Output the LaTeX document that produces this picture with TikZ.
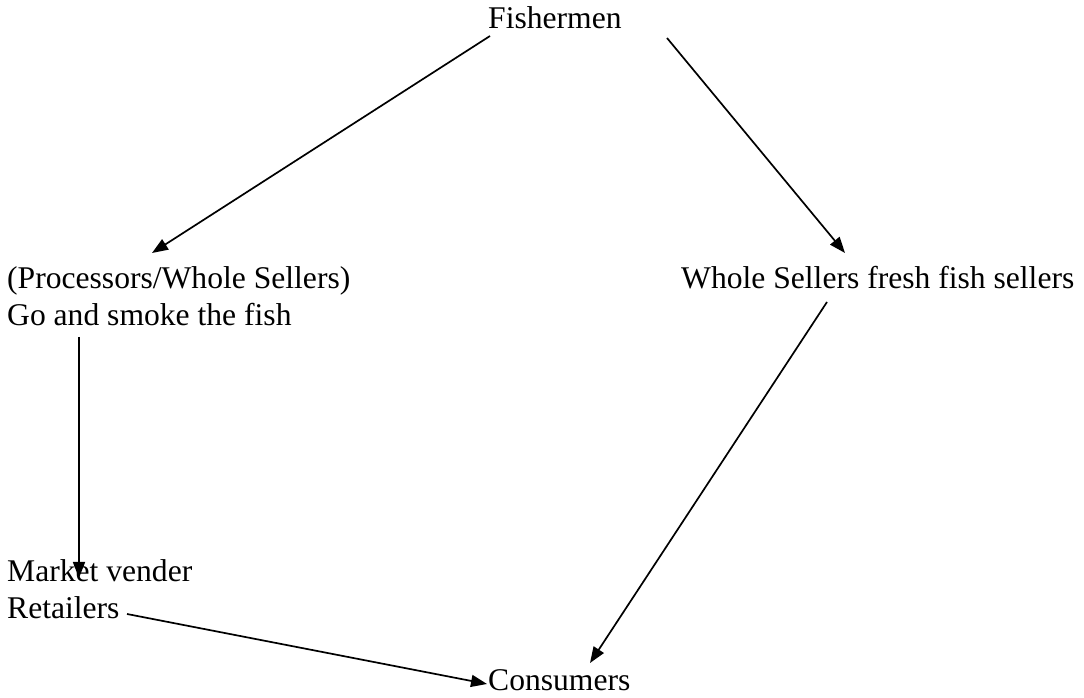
\documentclass[tikz,border=0pt]{standalone}
\usepackage{fontspec}
\setmainfont{Liberation Serif}
\usetikzlibrary{arrows.meta}
\begin{document}
\begin{tikzpicture}[x=1pt,y=1pt,
  label/.style={anchor=base west,inner sep=0pt,align=left,
    font=\fontsize{31.6}{37}\selectfont},
  flow/.style={line width=1.7pt,-{Triangle[length=16pt,width=12pt]}}]
\useasboundingbox (0,0) rectangle (1084,698);

% stages of the fish trade (base anchor = baseline of the last line)
\node[label] (fish)   at (488,669) {Fishermen};
\node[label] (proc)   at (7,372)   {(Processors/Whole Sellers)\\Go and smoke the fish};
\node[label] (whole)  at (681,409) {Whole Sellers fresh fish sellers};
\node[label] (market) at (7,79)    {Market vender\\Retailers};
\node[label] (cons)   at (488,7)   {Consumers};

% connector end points
\coordinate (fishL)   at (490,662);
\coordinate (fishR)   at (667,660);
\coordinate (procT)   at (152,445);
\coordinate (wholeT)  at (845,445);
\coordinate (procB)   at (79,361);
\coordinate (marketT) at (79,120);
\coordinate (wholeB)  at (827,396);
\coordinate (consR)   at (590,35);
\coordinate (retR)    at (127,84);
\coordinate (consL)   at (487,14);

\draw[flow] (fishL) -- (procT);
\draw[flow] (fishR) -- (wholeT);
\draw[flow] (procB) -- (marketT);
\draw[flow] (wholeB) -- (consR);
\draw[flow] (retR) -- (consL);
\end{tikzpicture}
\end{document}
